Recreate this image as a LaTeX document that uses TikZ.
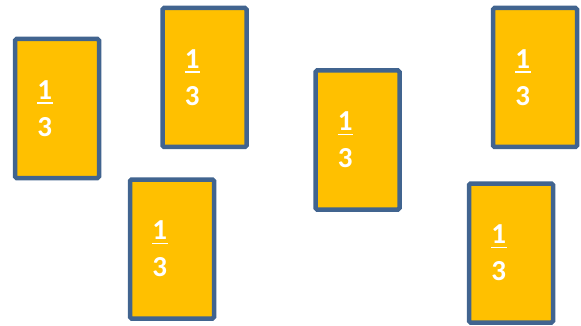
\documentclass[tikz,border=0pt]{standalone}
\usepackage{fontspec}
\setmainfont{Carlito}
\definecolor{kaartgeel}{HTML}{FFC000}
\definecolor{kaartrand}{HTML}{41648F}
\tikzset{
  kaart/.style={draw=kaartrand, line width=4.5pt, fill=kaartgeel, rounded corners=1.5pt,
    minimum width=84pt, minimum height=139pt, inner xsep=22pt, inner ysep=0pt,
    text width=40pt, align=left, text=white,
    font=\fontsize{29}{37}\selectfont\bfseries}
}
\newcommand{\derde}{\rlap{\rule[-4.5pt]{15.5pt}{1.8pt}}\hspace*{0.3pt}1\\\hspace*{0.3pt}3}
\begin{document}
\begin{tikzpicture}[x=1pt, y=-1pt]
  \useasboundingbox (0,0) rectangle (581,326);

  % Kaarten
  \node[kaart] (k1) at (57,108.5) {\derde};
  \node[kaart] (k2) at (204.5,77.5) {\derde};
  \node[kaart] (k3) at (172,249) {\derde};
  \node[kaart] (k4) at (357.5,140) {\derde};
  \node[kaart] (k5) at (535,77.5) {\derde};
  \node[kaart] (k6) at (511,253) {\derde};
\end{tikzpicture}
\end{document}
